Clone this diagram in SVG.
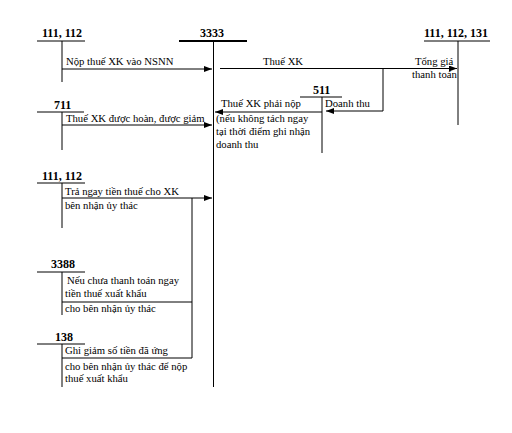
<svg xmlns="http://www.w3.org/2000/svg" width="512" height="433" viewBox="0 0 512 433">
<style>
.t{font-family:"Liberation Serif","Times New Roman",serif;font-size:10.7px;fill:#000}
.b{font-family:"Liberation Serif","Times New Roman",serif;font-size:12px;font-weight:bold;fill:#000}
.l{stroke:#000;stroke-width:1;fill:none}
.c{stroke:#000;stroke-width:1;fill:none}
</style>
<defs>
<marker id="ah" markerUnits="userSpaceOnUse" markerWidth="8" markerHeight="6" refX="8" refY="3" orient="auto">
<path d="M0,0 L8,3 L0,6 z" fill="#000"/>
</marker>
</defs>
<rect width="512" height="433" fill="#fff"/>
<g id="acc-3333">
<text class="b" x="200" y="37">3333</text>
<line x1="179" y1="41" x2="247" y2="41" stroke="#000" stroke-width="2"/>
<line class="l" x1="213.5" y1="41" x2="213.5" y2="387" stroke-width="1.5"/>
</g>
<g id="acc-111-112-a">
<text class="b" x="42" y="37">111, 112</text>
<line class="l" x1="37" y1="41" x2="85" y2="41"/>
<line class="l" x1="62" y1="41" x2="62" y2="82"/>
<text class="t" x="66" y="65">Nộp thuế XK vào NSNN</text>
</g>
<g id="acc-111-112-131">
<text class="b" x="424" y="37">111, 112, 131</text>
<line class="l" x1="424" y1="41" x2="490" y2="41"/>
<line class="l" x1="458" y1="41" x2="458" y2="125"/>
<text class="t" x="263" y="65">Thuế XK</text>
<text class="t" x="415" y="65">Tổng giá</text>
<text class="t" x="412" y="78">thanh toán</text>
</g>
<g id="acc-511">
<text class="b" x="313" y="94">511</text>
<line class="l" x1="300" y1="97" x2="342" y2="97"/>
<line class="l" x1="322" y1="97" x2="322" y2="153"/>
<text class="t" x="325" y="107">Doanh thu</text>
<text class="t" x="221" y="107">Thuế XK phải nộp</text>
<text class="t" x="216" y="122">(nếu không tách ngay</text>
<text class="t" x="216" y="135">tại thời điểm ghi nhận</text>
<text class="t" x="216" y="148">doanh thu</text>
</g>
<g id="acc-711">
<text class="b" x="54" y="109">711</text>
<line class="l" x1="37" y1="112" x2="84" y2="112"/>
<line class="l" x1="62" y1="112" x2="62" y2="150"/>
<text class="t" x="66" y="122">Thuế XK được hoàn, được giảm</text>
</g>
<g id="acc-111-112-b">
<text class="b" x="42" y="180">111, 112</text>
<line class="l" x1="37" y1="183" x2="85" y2="183"/>
<line class="l" x1="62" y1="183" x2="62" y2="228"/>
<text class="t" x="65" y="195">Trả ngay tiền thuế cho XK</text>
<text class="t" x="65" y="209">bên nhận ủy thác</text>
</g>
<g id="acc-3388">
<text class="b" x="51" y="268">3388</text>
<line class="l" x1="37" y1="272" x2="85" y2="272"/>
<line class="l" x1="62" y1="272" x2="62" y2="315"/>
<text class="t" x="67" y="284">Nếu chưa thanh toán ngay</text>
<text class="t" x="65" y="297">tiền thuế xuất khẩu</text>
<text class="t" x="65" y="312">cho bên nhận ủy thác</text>
</g>
<g id="acc-138">
<text class="b" x="55" y="341">138</text>
<line class="l" x1="37" y1="344" x2="85" y2="344"/>
<line class="l" x1="62" y1="344" x2="62" y2="387"/>
<text class="t" x="65" y="354">Ghi giảm số tiền đã ứng</text>
<text class="t" x="65" y="370">cho bên nhận ủy thác để nộp</text>
<text class="t" x="65" y="382">thuế xuất khẩu</text>
</g>
<g id="connectors">
<line class="c" x1="62" y1="69" x2="212" y2="69" marker-end="url(#ah)"/>
<line class="c" x1="220" y1="68.5" x2="457" y2="68.5" marker-end="url(#ah)"/>
<polyline class="c" points="383,68.5 383,111 326,111" marker-end="url(#ah)"/>
<line class="c" x1="322" y1="112" x2="215" y2="112" marker-end="url(#ah)"/>
<line class="c" x1="62" y1="125" x2="212" y2="125" marker-end="url(#ah)"/>
<line class="c" x1="62" y1="198" x2="212" y2="198" marker-end="url(#ah)"/>
<line class="c" x1="192" y1="198" x2="192" y2="358"/>
<line class="c" x1="62" y1="302" x2="192" y2="302"/>
<line class="c" x1="62" y1="358" x2="192" y2="358"/>
</g>
</svg>
